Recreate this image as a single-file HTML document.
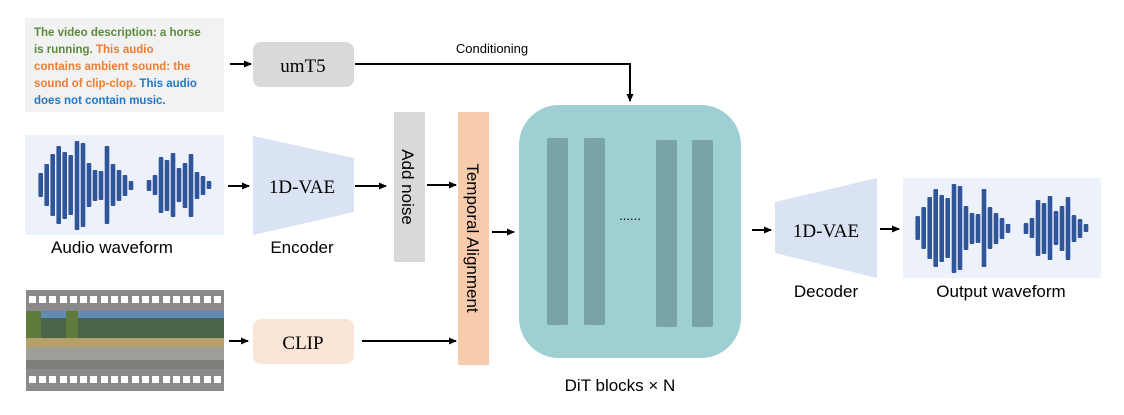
<!DOCTYPE html>
<html><head><meta charset="utf-8"><style>
body{margin:0;background:#fff;width:1124px;height:415px;overflow:hidden}
svg{display:block}
.s{font-family:"Liberation Sans","DejaVu Sans",sans-serif}
.t{font-family:"Liberation Serif",serif}
</style></head><body>
<svg width="1124" height="415" viewBox="0 0 1124 415" xmlns="http://www.w3.org/2000/svg">
<defs>
<marker id="a" markerWidth="8" markerHeight="8" refX="7" refY="4" orient="auto" markerUnits="userSpaceOnUse"><path d="M0,0.5 L8,4 L0,7.5z" fill="#000"/></marker>
<g id="wave" fill="#2f559a">
<rect x="38.4" y="173" width="4.6" height="24" rx="1"/>
<rect x="44.4" y="164" width="4.6" height="42" rx="1"/>
<rect x="50.4" y="154" width="4.6" height="62" rx="1"/>
<rect x="56.4" y="146" width="4.6" height="78" rx="1"/>
<rect x="62.4" y="152" width="4.6" height="67" rx="1"/>
<rect x="68.4" y="155" width="4.6" height="60" rx="1"/>
<rect x="74.7" y="141" width="4.6" height="89" rx="1"/>
<rect x="80.7" y="143" width="4.6" height="84" rx="1"/>
<rect x="86.7" y="163" width="4.6" height="44" rx="1"/>
<rect x="92.7" y="170" width="4.6" height="31" rx="1"/>
<rect x="98.7" y="171" width="4.6" height="29" rx="1"/>
<rect x="104.7" y="146" width="4.6" height="78" rx="1"/>
<rect x="110.7" y="164" width="4.6" height="42" rx="1"/>
<rect x="116.7" y="170" width="4.6" height="31" rx="1"/>
<rect x="122.7" y="175" width="4.6" height="21" rx="1"/>
<rect x="128.7" y="181" width="4.6" height="9" rx="1"/>
<rect x="146.7" y="180" width="4.6" height="11" rx="1"/>
<rect x="152.7" y="175" width="4.6" height="20" rx="1"/>
<rect x="158.7" y="157" width="4.6" height="56" rx="1"/>
<rect x="164.7" y="160" width="4.6" height="51" rx="1"/>
<rect x="170.7" y="153" width="4.6" height="64" rx="1"/>
<rect x="176.7" y="168" width="4.6" height="34" rx="1"/>
<rect x="182.7" y="163" width="4.6" height="45" rx="1"/>
<rect x="188.7" y="154" width="4.6" height="63" rx="1"/>
<rect x="194.7" y="172" width="4.6" height="27" rx="1"/>
<rect x="200.7" y="176" width="4.6" height="19" rx="1"/>
<rect x="206.7" y="181" width="4.6" height="8" rx="1"/>
</g>
</defs>
<!-- text box -->
<rect x="25" y="18" width="199" height="94" fill="#f2f2f2"/>
<g class="s" font-size="11.5" font-weight="bold">
<text x="34" y="36" fill="#5b8a3a">The video description: a horse</text>
<text x="34" y="53"><tspan fill="#5b8a3a">is running. </tspan><tspan fill="#ed7d31">This audio</tspan></text>
<text x="34" y="70" fill="#ed7d31">contains ambient sound: the</text>
<text x="34" y="87"><tspan fill="#ed7d31">sound of clip-clop. </tspan><tspan fill="#1f78c8">This audio</tspan></text>
<text x="34" y="104" fill="#1f78c8">does not contain music.</text>
</g>
<!-- umT5 -->
<line x1="230" y1="64" x2="251" y2="64" stroke="#000" stroke-width="2" marker-end="url(#a)"/>
<rect x="253" y="42" width="101" height="45" rx="8" fill="#d9d9d9"/>
<text x="303" y="72" text-anchor="middle" class="t" font-size="19">umT5</text>
<polyline points="355,64 630,64 630,101" fill="none" stroke="#000" stroke-width="2" marker-end="url(#a)"/>
<text x="492" y="53" text-anchor="middle" class="s" font-size="13">Conditioning</text>
<!-- audio waveform -->
<rect x="25" y="135" width="199" height="100" fill="#edf1f9"/>
<use href="#wave"/>
<text x="112" y="253" text-anchor="middle" class="s" font-size="17">Audio waveform</text>
<line x1="228" y1="186" x2="249" y2="186" stroke="#000" stroke-width="2" marker-end="url(#a)"/>
<polygon points="253,136 354,158 354,212 253,235" fill="#dae3f3"/>
<text x="302" y="193" text-anchor="middle" class="t" font-size="19">1D-VAE</text>
<text x="302" y="253" text-anchor="middle" class="s" font-size="17">Encoder</text>
<line x1="355" y1="186" x2="386" y2="186" stroke="#000" stroke-width="2" marker-end="url(#a)"/>
<!-- add noise -->
<rect x="394" y="112" width="31" height="150" fill="#d9d9d9"/>
<text transform="translate(402,187) rotate(90)" text-anchor="middle" class="s" font-size="17">Add noise</text>
<line x1="427" y1="185" x2="456" y2="185" stroke="#000" stroke-width="2" marker-end="url(#a)"/>
<!-- temporal alignment -->
<rect x="458" y="112" width="31" height="253" fill="#f8cbad"/>
<text transform="translate(467,238) rotate(90)" text-anchor="middle" class="s" font-size="17">Temporal Alignment</text>
<line x1="492" y1="232" x2="514" y2="232" stroke="#000" stroke-width="2" marker-end="url(#a)"/>
<!-- DiT -->
<rect x="519" y="105" width="222" height="253" rx="40" fill="#9dcfd3"/>
<g fill="#78a3a8">
<rect x="547" y="138" width="21" height="187" rx="2"/><rect x="584" y="138" width="21" height="187" rx="2"/>
<rect x="656" y="140" width="21" height="187" rx="2"/><rect x="692" y="140" width="21" height="187" rx="2"/>
</g>
<text x="630" y="220" text-anchor="middle" class="s" font-size="13">......</text>
<text x="620" y="391" text-anchor="middle" class="s" font-size="17">DiT blocks × N</text>
<line x1="752" y1="230" x2="771" y2="230" stroke="#000" stroke-width="2" marker-end="url(#a)"/>
<!-- decoder -->
<polygon points="775,202 877,178 877,278 775,253" fill="#dae3f3"/>
<text x="826" y="237" text-anchor="middle" class="t" font-size="19">1D-VAE</text>
<text x="826" y="297" text-anchor="middle" class="s" font-size="17">Decoder</text>
<line x1="880" y1="229" x2="899" y2="229" stroke="#000" stroke-width="2" marker-end="url(#a)"/>
<rect x="903" y="178" width="198" height="100" fill="#edf1f9"/>
<use href="#wave" transform="translate(877,43)"/>
<text x="1001" y="297" text-anchor="middle" class="s" font-size="17">Output waveform</text>
<!-- film -->
<rect x="26" y="290" width="198" height="101" fill="#8a8a8a"/>
<g>
<rect x="26" y="311" width="198" height="58" fill="#7a8a80"/>
<rect x="26" y="311" width="198" height="10" fill="#5a8ac8" opacity="0.7"/>
<rect x="26" y="318" width="198" height="20" fill="#3f5a3a" opacity="0.8"/>
<rect x="26" y="311" width="15" height="30" fill="#5f7a3a"/>
<rect x="66" y="311" width="12" height="30" fill="#5f7a3a"/>
<rect x="26" y="338" width="198" height="9" fill="#b5a06a"/>
<rect x="26" y="347" width="198" height="22" fill="#a09e98"/>
<rect x="26" y="360" width="198" height="9" fill="#5e5e5e" opacity="0.5"/>
</g>
<g fill="#fff">
<rect x="29" y="296" width="7" height="7"/><rect x="39" y="296" width="7" height="7"/><rect x="49" y="296" width="7" height="7"/><rect x="60" y="296" width="7" height="7"/><rect x="70" y="296" width="7" height="7"/><rect x="80" y="296" width="7" height="7"/><rect x="90" y="296" width="7" height="7"/><rect x="101" y="296" width="7" height="7"/><rect x="111" y="296" width="7" height="7"/><rect x="121" y="296" width="7" height="7"/><rect x="132" y="296" width="7" height="7"/><rect x="142" y="296" width="7" height="7"/><rect x="152" y="296" width="7" height="7"/><rect x="163" y="296" width="7" height="7"/><rect x="173" y="296" width="7" height="7"/><rect x="183" y="296" width="7" height="7"/><rect x="193" y="296" width="7" height="7"/><rect x="204" y="296" width="7" height="7"/><rect x="214" y="296" width="7" height="7"/>
<rect x="29" y="376" width="7" height="7"/><rect x="39" y="376" width="7" height="7"/><rect x="49" y="376" width="7" height="7"/><rect x="60" y="376" width="7" height="7"/><rect x="70" y="376" width="7" height="7"/><rect x="80" y="376" width="7" height="7"/><rect x="90" y="376" width="7" height="7"/><rect x="101" y="376" width="7" height="7"/><rect x="111" y="376" width="7" height="7"/><rect x="121" y="376" width="7" height="7"/><rect x="132" y="376" width="7" height="7"/><rect x="142" y="376" width="7" height="7"/><rect x="152" y="376" width="7" height="7"/><rect x="163" y="376" width="7" height="7"/><rect x="173" y="376" width="7" height="7"/><rect x="183" y="376" width="7" height="7"/><rect x="193" y="376" width="7" height="7"/><rect x="204" y="376" width="7" height="7"/><rect x="214" y="376" width="7" height="7"/>
</g>
<line x1="229" y1="341" x2="248" y2="341" stroke="#000" stroke-width="2" marker-end="url(#a)"/>
<rect x="253" y="319" width="101" height="45" rx="8" fill="#fbe5d6"/>
<text x="303" y="349" text-anchor="middle" class="t" font-size="19">CLIP</text>
<line x1="362" y1="341" x2="456" y2="341" stroke="#000" stroke-width="2" marker-end="url(#a)"/>
</svg>
</body></html>
